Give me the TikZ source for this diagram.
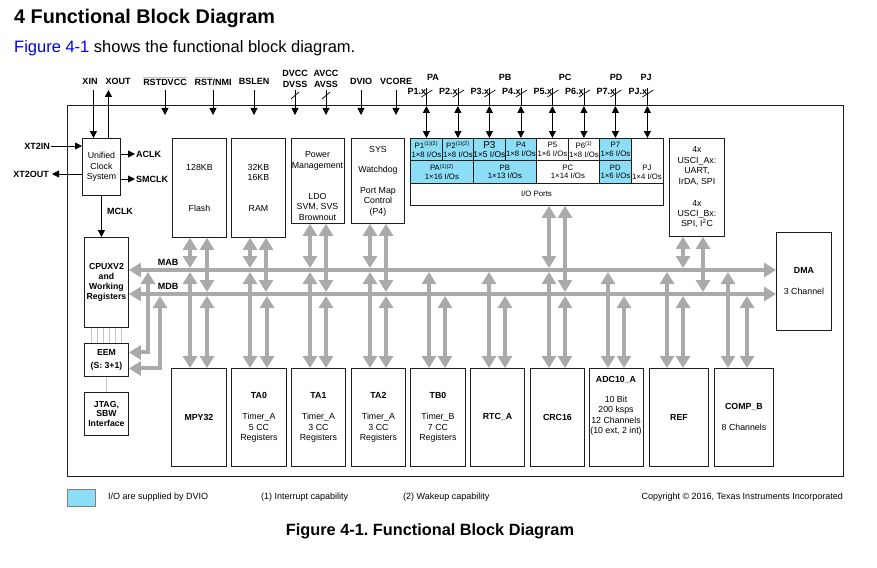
\documentclass[tikz,border=0pt]{standalone}
\usepackage{fontspec}
\setmainfont{Liberation Sans}
\usepackage{xcolor}
\usepackage{tikz}
\usetikzlibrary{arrows.meta,calc}
\definecolor{bk}{RGB}{30,30,30}
\definecolor{bu}{RGB}{170,170,170}
\definecolor{io}{RGB}{140,221,246}
\definecolor{lk}{RGB}{0,0,238}
\definecolor{lg}{RGB}{195,195,195}
\newcommand{\OVL}[1]{\setbox0=\hbox{#1}\rlap{\textcolor{lg}{\rule[\dimexpr\ht0+0.6pt\relax]{\wd0}{1.3pt}}}\box0}
\frenchspacing

\begin{document}
\begin{tikzpicture}[x=1pt,y=-1pt,
  blk/.style={draw=bk,line width=0.9pt,inner sep=1pt,align=center,anchor=north west,font=\fontsize{8.8}{10.4}\selectfont},
  txt/.style={inner sep=1pt,align=center,font=\fontsize{8.8}{10.4}\selectfont},
  cell/.style={draw=bk,line width=0.8pt,fill=io,inner sep=0pt,align=center,anchor=north west,font=\fontsize{7.8}{8.8}\selectfont},
  pinlbl/.style={inner sep=1pt,align=center,font=\bfseries\fontsize{9}{11}\selectfont},
  small/.style={inner sep=1pt,font=\fontsize{9}{10}\selectfont},
  pinarr/.style={draw=black,line width=0.8pt,-{Triangle[width=7pt,length=7pt]}},
  bidir/.style={draw=black,line width=0.8pt,{Triangle[width=7pt,length=7pt]}-{Triangle[width=7pt,length=7pt]}},
  wire/.style={draw=black,line width=0.8pt},
  slashmk/.style={draw=black,line width=0.7pt},
  bus/.style={draw=bu,line width=4pt,{Triangle[width=14pt,length=12pt]}-{Triangle[width=14pt,length=12pt]}},
  thinl/.style={draw=lg,line width=0.6pt}]
  \useasboundingbox (0,0) rectangle (877,567);

  % heading
  \node[anchor=base west,inner sep=0pt,font=\bfseries\fontsize{19.8}{22}\selectfont] (title) at (14,24) {4 Functional Block Diagram};
  \node[anchor=base west,inner sep=0pt,font=\fontsize{16.5}{18}\selectfont] (intro) at (14,53) {\textcolor{lk}{Figure 4-1} shows the functional block diagram.};

  % device outline
  \node[draw=bk,line width=1pt,inner sep=0pt,minimum width=776,minimum height=371,anchor=north west] (chip) at (67,105) {};

  \coordinate (pinT) at (0,90);
  \coordinate (pinB) at (0,115);
  \coordinate (portTop) at (0,88);
  \coordinate (chipIn) at (0,106);
  \coordinate (mab) at (0,270);
  \coordinate (mdb) at (0,294);
  \coordinate (mabA) at (0,268);
  \coordinate (mabB) at (0,272);
  \coordinate (mdbA) at (0,292);
  \coordinate (mdbB) at (0,296);

  % top row blocks
  \node[blk,minimum width=38,minimum height=57] (ucs) at (82,138) {Unified\\Clock\\System};
  \node[blk,minimum width=54,minimum height=99] (flash) at (172,138) {128KB\\[30.6pt]Flash};
  \node[blk,minimum width=54,minimum height=99] (ram) at (231,138) {32KB\\16KB\\[20.6pt]RAM};
  \node[blk,minimum width=53,minimum height=85] (pmm) at (291,138) {};
  \node[txt] (pmmT) at (317.5,186) {Power\\Management\\[20.6pt]LDO\\SVM, SVS\\Brownout};
  \node[blk,minimum width=53,minimum height=85] (sys) at (351,138) {SYS\\[9.6pt]Watchdog\\[10.6pt]Port Map\\Control\\(P4)};
  \node[blk,minimum width=253,minimum height=67] (ioports) at (410,138) {};
  \node[blk,minimum width=55,minimum height=98] (usci) at (669,138) {4x\\USCI\_Ax:\\UART,\\IrDA, SPI\\[11.6pt]4x\\USCI\_Bx:\\SPI, I\textsuperscript{2}C};

  % port cells
  \node[cell,minimum width=32,minimum height=22] (p1) at (410,138) {P1\textsuperscript{(1)(2)}\\1×8 I/Os};
  \node[cell,minimum width=31,minimum height=22] (p2) at (442,138) {P2\textsuperscript{(1)(2)}\\1×8 I/Os};
  \node[cell,minimum width=32,minimum height=22,font=\fontsize{8.4}{9.4}\selectfont] (p3) at (473,138) {{\fontsize{10}{10}\selectfont P3}\\1×5 I/Os};
  \node[cell,minimum width=31,minimum height=22] (p4) at (505,138) {P4\\1×8 I/Os};
  \node[cell,fill=white,minimum width=32,minimum height=22] (p5) at (536,138) {P5\\1×6 I/Os};
  \node[cell,fill=white,minimum width=31,minimum height=22] (p6) at (568,138) {P6\textsuperscript{(1)}\\1×8 I/Os};
  \node[cell,minimum width=32,minimum height=22] (p7) at (599,138) {P7\\1×6 I/Os};
  \node[cell,fill=white,minimum width=32,minimum height=45] (pj) at (631,138) {};
  \node[cell,minimum width=63,minimum height=23] (pa) at (410,160) {PA\textsuperscript{(1)(2)}\\1×16 I/Os};
  \node[cell,minimum width=63,minimum height=23] (pb) at (473,160) {PB\\1×13 I/Os};
  \node[cell,fill=white,minimum width=63,minimum height=23] (pc) at (536,160) {PC\\1×14 I/Os};
  \node[cell,minimum width=32,minimum height=23] (pd) at (599,160) {PD\\1×6 I/Os};
  \node[inner sep=0pt,align=center,font=\fontsize{7.8}{8.8}\selectfont] (pjT) at (647,172) {PJ\\1×4 I/Os};
  \node[txt,font=\fontsize{7.8}{9}\selectfont] (iolbl) at (536.5,194) {I/O Ports};

  % left column
  \node[blk,minimum width=44,minimum height=90,font=\bfseries\fontsize{8.7}{10.2}\selectfont] (cpu) at (84,237) {CPUXV2\\and\\Working\\Registers};
  \node[blk,minimum width=44,minimum height=33,font=\bfseries\fontsize{8.7}{10.2}\selectfont] (eem) at (84,343) {EEM\\[2.6pt](S: 3+1)};
  \node[blk,minimum width=44,minimum height=43,font=\bfseries\fontsize{8.7}{9.8}\selectfont] (jtag) at (84,392) {JTAG,\\SBW\\Interface};
  \node[blk,minimum width=55,minimum height=98] (dma) at (776,232) {\textbf{DMA}\\[10.6pt]3 Channel};

  % bottom row blocks
  \node[blk,minimum width=55,minimum height=98] (mpy) at (171,368) {\textbf{MPY32}};
  \node[blk,minimum width=55,minimum height=98] (ta0) at (231,368) {\textbf{TA0}\\[10.6pt]Timer\_A\\5 CC\\Registers};
  \node[blk,minimum width=54,minimum height=98] (ta1) at (291,368) {\textbf{TA1}\\[10.6pt]Timer\_A\\3 CC\\Registers};
  \node[blk,minimum width=54,minimum height=98] (ta2) at (351,368) {\textbf{TA2}\\[10.6pt]Timer\_A\\3 CC\\Registers};
  \node[blk,minimum width=55,minimum height=98] (tb0) at (410,368) {\textbf{TB0}\\[10.6pt]Timer\_B\\7 CC\\Registers};
  \node[blk,minimum width=54,minimum height=98] (rtc) at (470,368) {\textbf{RTC\_A}};
  \node[blk,minimum width=54,minimum height=98] (crc) at (530,368) {\textbf{CRC16}};
  \node[blk,minimum width=54,minimum height=98] (adc) at (589,368) {};
  \node[txt] (adcT) at (616,406) {\textbf{ADC10\_A}\\[9.6pt]10 Bit\\200 ksps\\12 Channels\\(10 ext, 2 int)};
  \node[blk,minimum width=59,minimum height=98] (ref) at (649,368) {\textbf{REF}};
  \node[blk,minimum width=59,minimum height=98] (comp) at (714,368) {\textbf{COMP\_B}\\[10.6pt]8 Channels};

  % supply and control pins
  \node[pinlbl] (xin) at (90,81) {XIN};
  \node[pinlbl] (xout) at (118,81) {XOUT};
  \node[pinlbl] (rstdvcc) at (165,81) {\OVL{RSTDVCC}};
  \node[pinlbl] (rstnmi) at (213,81) {\OVL{RST}/NMI};
  \node[pinlbl] (bslen) at (254,81) {BSLEN};
  \node[pinlbl] (dvcc) at (295,79) {DVCC\\DVSS};
  \node[pinlbl] (avcc) at (326,79) {AVCC\\AVSS};
  \node[pinlbl] (dvio) at (361,81) {DVIO};
  \node[pinlbl] (vcore) at (396,81) {VCORE};
  \foreach \n in {rstdvcc,rstnmi,bslen,dvcc,avcc,dvio,vcore}
    \draw[pinarr] (\n |- pinT) -- (\n |- pinB);
  \foreach \n in {dvcc,avcc}
    \draw[slashmk] ($(\n |- pinT)+(-4,9)$) -- ($(\n |- pinT)+(4,2)$);

  % crystal and clocks
  \coordinate (xinP) at ([xshift=-8pt]ucs.north);
  \coordinate (xoutP) at ([xshift=7pt]ucs.north);
  \draw[pinarr] (xinP |- pinT) -- (xinP);
  \draw[pinarr] (xoutP) -- (xoutP |- pinT);
  \node[pinlbl,anchor=east] (xt2in) at (51,146) {XT2IN};
  \node[pinlbl,anchor=east] (xt2out) at (50,174) {XT2OUT};
  \draw[pinarr] (xt2in.east) -- (xt2in.east -| ucs.west);
  \draw[pinarr] (xt2out.east -| ucs.west) -- ([xshift=2pt]xt2out.east);
  \node[pinlbl,anchor=west] (aclk) at (135,154) {ACLK};
  \node[pinlbl,anchor=west] (smclk) at (135,179) {SMCLK};
  \draw[pinarr] (aclk.west -| ucs.east) -- (aclk.west);
  \draw[pinarr] (smclk.west -| ucs.east) -- (smclk.west);
  \node[pinlbl] (mclk) at (120,211) {MCLK};
  \draw[pinarr] (ucs.south) -- (ucs.south |- cpu.north);

  % port pins
  \node[pinlbl] (pagrp) at (433,77) {PA};
  \node[pinlbl] (pbgrp) at (505,77) {PB};
  \node[pinlbl] (pcgrp) at (565,77) {PC};
  \node[pinlbl] (pdgrp) at (616,77) {PD};
  \node[pinlbl] (pjgrp) at (646,77) {PJ};
  \foreach \c/\t in {p1/P1.x,p2/P2.x,p3/P3.x,p4/P4.x,p5/P5.x,p6/P6.x,p7/P7.x,pj/PJ.x} {
    \coordinate (q) at (\c.north |- portTop);
    \node[pinlbl,anchor=east] (\c-l) at ($(q)+(1,3)$) {\t};
    \draw[wire] (q) -- (q |- chip.north);
    \draw[slashmk] ($(q)+(-5,9)$) -- ($(q)+(6,2)$);
    \draw[bidir] (q |- chipIn) -- (\c.north);
  }

  % buses
  \node[pinlbl] (mablbl) at (168,262) {MAB};
  \node[pinlbl] (mdblbl) at (168,286) {MDB};
  \draw[bus] (cpu.east |- mab) -- (dma.west |- mab);
  \draw[bus] (cpu.east |- mdb) -- (dma.west |- mdb);
  \foreach \b/\xa/\xb in {flash/190/207,ram/250/266,pmm/310/326,sys/370/386,ioports/549/565,usci/683/703} {
    \coordinate (ca) at (\xa,0);
    \coordinate (cb) at (\xb,0);
    \draw[bus] (\b.south -| ca) -- (mabA -| ca);
    \draw[bus] (\b.south -| cb) -- (mdbA -| cb);
  }
  \foreach \b/\xa/\xb in {mpy/190/207,ta0/250/267,ta1/310/326,ta2/370/386,tb0/429/445,rtc/489/505,crc/549/565,adc/608/624,ref/667/683,comp/728/747} {
    \coordinate (ca) at (\xa,0);
    \coordinate (cb) at (\xb,0);
    \draw[bus] (mabB -| ca) -- (\b.north -| ca);
    \draw[bus] (mdbB -| cb) -- (\b.north -| cb);
  }
  \coordinate (e1) at (148,0);
  \coordinate (e2) at (160,0);
  \draw[bus] ([yshift=7.5pt]eem.east) -| (mabB -| e1);
  \draw[bus] ([yshift=-8.5pt]eem.east) -| (mdbB -| e2);

  % debug links
  \foreach \dx in {-15,-9,-3,3,9,15}
    \draw[thinl] ([xshift=\dx pt]cpu.south) -- ([xshift=\dx pt]eem.north);
  \draw[thinl] (eem.south) -- (jtag.north);

  % legend
  \node[draw=gray,fill=io,line width=0.5pt,inner sep=0pt,minimum width=28,minimum height=17,anchor=north west] (key) at (67,489) {};
  \node[small,anchor=west] (keyT) at (107,497.5) {I/O are supplied by DVIO};
  \node[small,anchor=west] (note1) at (260,497.5) {(1) Interrupt capability};
  \node[small,anchor=west] (note2) at (402,497.5) {(2) Wakeup capability};
  \node[small,anchor=east] (copy) at (844,497.5) {Copyright © 2016, Texas Instruments Incorporated};
  \node[anchor=base,inner sep=0pt,font=\bfseries\fontsize{16.3}{18}\selectfont] (caption) at (430,535) {Figure 4-1. Functional Block Diagram};
\end{tikzpicture}
\end{document}
